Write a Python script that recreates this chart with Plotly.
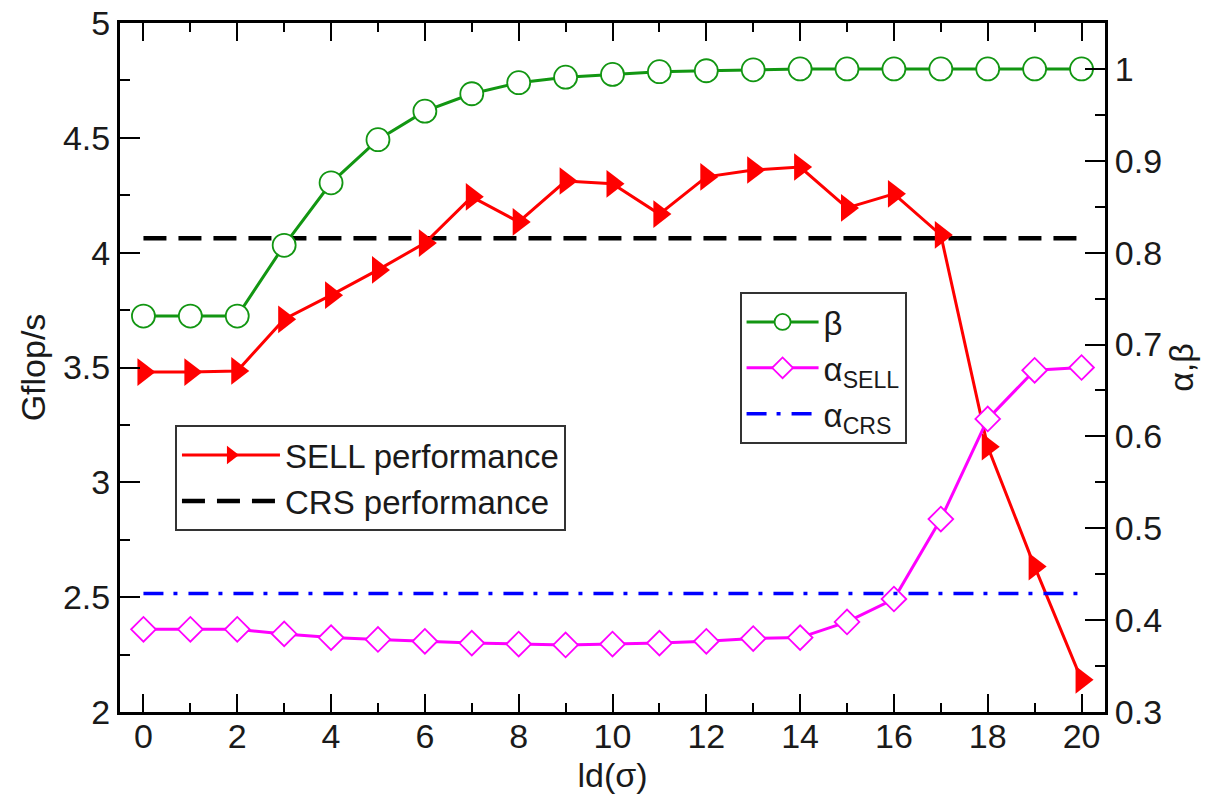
import plotly.graph_objects as go

x = list(range(21))
sell_perf = [3.48, 3.48, 3.485, 3.71, 3.815, 3.925, 4.042, 4.243, 4.134, 4.312, 4.30,
             4.168, 4.33, 4.36, 4.373, 4.195, 4.256, 4.077, 3.155, 2.633, 2.14]
crs_perf = [4.063] * 21
beta = [0.731, 0.731, 0.731, 0.808, 0.876, 0.923, 0.954, 0.973, 0.985, 0.991, 0.994,
        0.997, 0.998, 0.999, 1.0, 1.0, 1.0, 1.0, 1.0, 1.0, 1.0]
alpha_sell = [0.390, 0.390, 0.390, 0.385, 0.381, 0.379, 0.377, 0.375, 0.374, 0.373, 0.374,
              0.375, 0.377, 0.380, 0.381, 0.398, 0.423, 0.510, 0.619, 0.672, 0.675]
alpha_crs = [0.429] * 21

FONT = "Liberation Sans, Arial, sans-serif"
FS = 34
LFS = 33
TXT = "#1a1a1a"

fig = go.Figure()

fig.add_trace(go.Scatter(x=x, y=crs_perf, mode="lines", name="CRS performance",
                         line=dict(color="black", width=4.5, dash="23px,12px"),
                         legend="legend", yaxis="y"))
fig.add_trace(go.Scatter(x=x, y=sell_perf, mode="lines+markers", name="SELL performance",
                         line=dict(color="#ff0000", width=3),
                         marker=dict(symbol="triangle-right", size=24, color="#ff0000"),
                         legend="legend", yaxis="y"))
fig.add_trace(go.Scatter(x=x, y=beta, mode="lines+markers", name="β",
                         line=dict(color="#129612", width=3),
                         marker=dict(symbol="circle", size=23, color="white",
                                     line=dict(color="#129612", width=1.8)),
                         legend="legend2", yaxis="y2"))
fig.add_trace(go.Scatter(x=x, y=alpha_sell, mode="lines+markers", name="α<sub>SELL</sub>",
                         line=dict(color="#ff00ff", width=3),
                         marker=dict(symbol="diamond", size=19, color="white",
                                     line=dict(color="#ff00ff", width=1.8)),
                         legend="legend2", yaxis="y2"))
fig.add_trace(go.Scatter(x=x, y=alpha_crs, mode="lines", name="α<sub>CRS</sub>",
                         line=dict(color="#0000ff", width=3.5, dash="20px,10px,4px,11px"),
                         legend="legend2", yaxis="y2"))

axis_common = dict(showline=True, linecolor="black", linewidth=3, ticks="inside",
                   tickcolor="black", tickwidth=2, showgrid=False, zeroline=False,
                   automargin=False, ticklabeloverflow="allow",
                   tickfont=dict(family=FONT, size=FS, color=TXT))

fig.update_layout(
    width=1212, height=796,
    margin=dict(l=120, r=107, t=23, b=84, autoexpand=False),
    paper_bgcolor="white", plot_bgcolor="white",
    font=dict(family=FONT, size=FS, color=TXT),
    xaxis=dict(**axis_common, range=[-0.5, 20.5], dtick=2, tick0=0, ticklen=18,
               mirror="ticks", ticklabelstandoff=-8,
               minor=dict(ticks="inside", dtick=1, tick0=0, ticklen=9, tickcolor="black", tickwidth=2),
               title=dict(text="ld(σ)", font=dict(family=FONT, size=FS, color=TXT), standoff=10)),
    yaxis=dict(**axis_common, range=[2, 5], dtick=0.5, tick0=2, ticklen=20,
               minor=dict(ticks="inside", dtick=0.25, tick0=2, ticklen=10, tickcolor="black", tickwidth=2),
               title=dict(text="Gflop/s", font=dict(family=FONT, size=FS, color=TXT), standoff=8)),
    yaxis2=dict(**axis_common, range=[0.3, 1.05], dtick=0.1, tick0=0.3, ticklen=20,
                overlaying="y", side="right", anchor="x",
                minor=dict(ticks="inside", dtick=0.05, tick0=0.3, ticklen=10, tickcolor="black", tickwidth=2),
                title=dict(text="α,β", font=dict(family=FONT, size=FS, color=TXT), standoff=8)),
    legend=dict(x=0.0558, y=0.4165, xanchor="left", yanchor="top",
                bordercolor="#333", borderwidth=2, bgcolor="white",
                font=dict(family=FONT, size=LFS, color=TXT),
                traceorder="reversed", itemwidth=98),
    legend2=dict(x=0.629, y=0.6096, xanchor="left", yanchor="top",
                 bordercolor="#333", borderwidth=2, bgcolor="white",
                 font=dict(family=FONT, size=LFS, color=TXT),
                 traceorder="normal", itemwidth=72),
)

# remove the page body's default 8px margin so the figure fills the window exactly
fig.write_html("out.html", config={"displayModeBar": False},
               post_script="document.body.style.margin='0px';")
